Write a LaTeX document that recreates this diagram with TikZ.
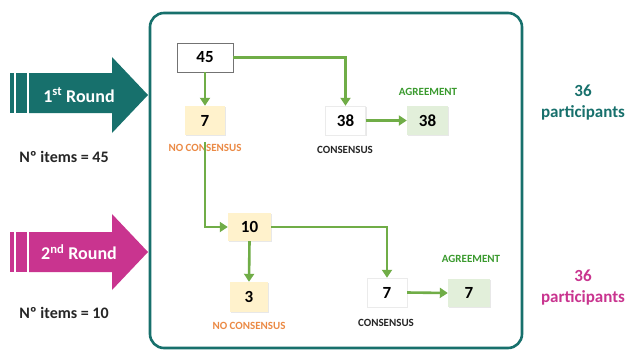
\documentclass[tikz,border=0pt]{standalone}
\usepackage{fontspec}
\setmainfont{Carlito}
\usetikzlibrary{arrows.meta,shadows}
\definecolor{teal1}{HTML}{17706C}
\definecolor{mag1}{HTML}{C9348F}
\definecolor{lgreen}{HTML}{70AD47}
\definecolor{agreen}{HTML}{3A9A2E}
\definecolor{ncor}{HTML}{EB8A45}
\definecolor{cream}{HTML}{FFF2CC}
\definecolor{gfill}{HTML}{E2EFDA}
\begin{document}
\begin{tikzpicture}[x=1pt,y=-1pt,
  numbox/.style={minimum width=40pt,minimum height=29pt,inner sep=0pt,
    font=\bfseries\fontsize{17}{17}\selectfont,
    drop shadow={opacity=0.18,shadow xshift=1pt,shadow yshift=-1pt}},
  whitebox/.style={numbox,fill=white,draw=black!8},
  creambox/.style={numbox,fill=cream},
  greenbox/.style={numbox,fill=gfill},
  lab/.style={font=\bfseries\fontsize{11}{11}\selectfont,inner sep=0pt},
  flow/.style={draw=lgreen,line width=2.6pt,-{Triangle[length=8pt,width=10pt]}},
  side/.style={font=\bfseries\fontsize{16}{16}\selectfont,text=black!85,inner sep=0pt},
  part/.style={font=\bfseries\fontsize{17}{21}\selectfont,align=center,inner sep=0pt},
  roundtxt/.style={font=\bfseries\fontsize{18}{18}\selectfont,text=white,inner sep=0pt}
]
\useasboundingbox (0,0) rectangle (627,349);
\fill[white] (0,0) rectangle (627,349);
% main frame
\draw[teal1,line width=2.6pt,rounded corners=14pt] (150,13) rectangle (522,348);
% round 1 arrow
\fill[teal1] (10,73) rectangle (14,113);
\fill[teal1] (16,73) rectangle (27,113);
\fill[teal1] (29,73) -- (112,73) -- (112,57) -- (148,95) -- (112,133) -- (112,113) -- (29,113) -- cycle;
\node[roundtxt] (r1) at (79,95) {1\textsuperscript{st} Round};
\node[side] (i1) at (64,157) {Nº items = 45};
% round 2 arrow
\fill[mag1] (10,232) rectangle (14,272);
\fill[mag1] (16,232) rectangle (27,272);
\fill[mag1] (29,232) -- (112,232) -- (112,214) -- (148,252) -- (112,290) -- (112,272) -- (29,272) -- cycle;
\node[roundtxt] (r2) at (79,252) {2\textsuperscript{nd} Round};
\node[side] (i2) at (64,313) {Nº items = 10};
% participants
\node[part,text=teal1] (p1) at (583,103) {36\\participants};
\node[part,text=mag1] (p2) at (583,288) {36\\participants};
% round 1 flow
\node[numbox,fill=white,draw=black!55,line width=0.8pt,minimum width=56pt,drop shadow={opacity=0}] (n45) at (205,57.5) {45};
\node[creambox] (n7a) at (205,120.5) {7};
\node[whitebox] (n38) at (345.5,120.5) {38};
\node[greenbox,minimum width=41pt] (n38g) at (427.5,120.5) {38};
\node[lab,text=ncor] (nc1) at (205,148) {NO CONSENSUS};
\node[lab,text=black!85] (c1) at (345,150) {CONSENSUS};
\node[lab,text=agreen] (ag1) at (428,92) {AGREEMENT};
% round 2 flow
\node[creambox,minimum width=43pt,minimum height=28pt] (n10) at (249.5,227) {10};
\node[creambox,minimum width=38pt,minimum height=30pt] (n3) at (249,297) {3};
\node[whitebox] (n7c) at (387,292.5) {7};
\node[greenbox,minimum width=42pt,minimum height=28pt] (n7g) at (469,293) {7};
\node[lab,text=ncor] (nc2) at (249,326) {NO CONSENSUS};
\node[lab,text=black!85] (c2) at (386,323) {CONSENSUS};
\node[lab,text=agreen] (ag2) at (471,259) {AGREEMENT};
% connectors
\draw[flow] (n45.south) -- (n7a.north);
\draw[flow] (n45.east) -| (n38.north);
\draw[flow] (n38.east) -- (n38g.west);
\coordinate (s2) at ([yshift=10pt]nc1.south);
\draw[flow] (s2) |- (n10.west);
\draw[flow] (n10.south) -- (n3.north);
\draw[flow] (n10.east) -| (n7c.north);
\draw[flow] (n7c.east) -- (n7g.west);
\end{tikzpicture}
\end{document}
